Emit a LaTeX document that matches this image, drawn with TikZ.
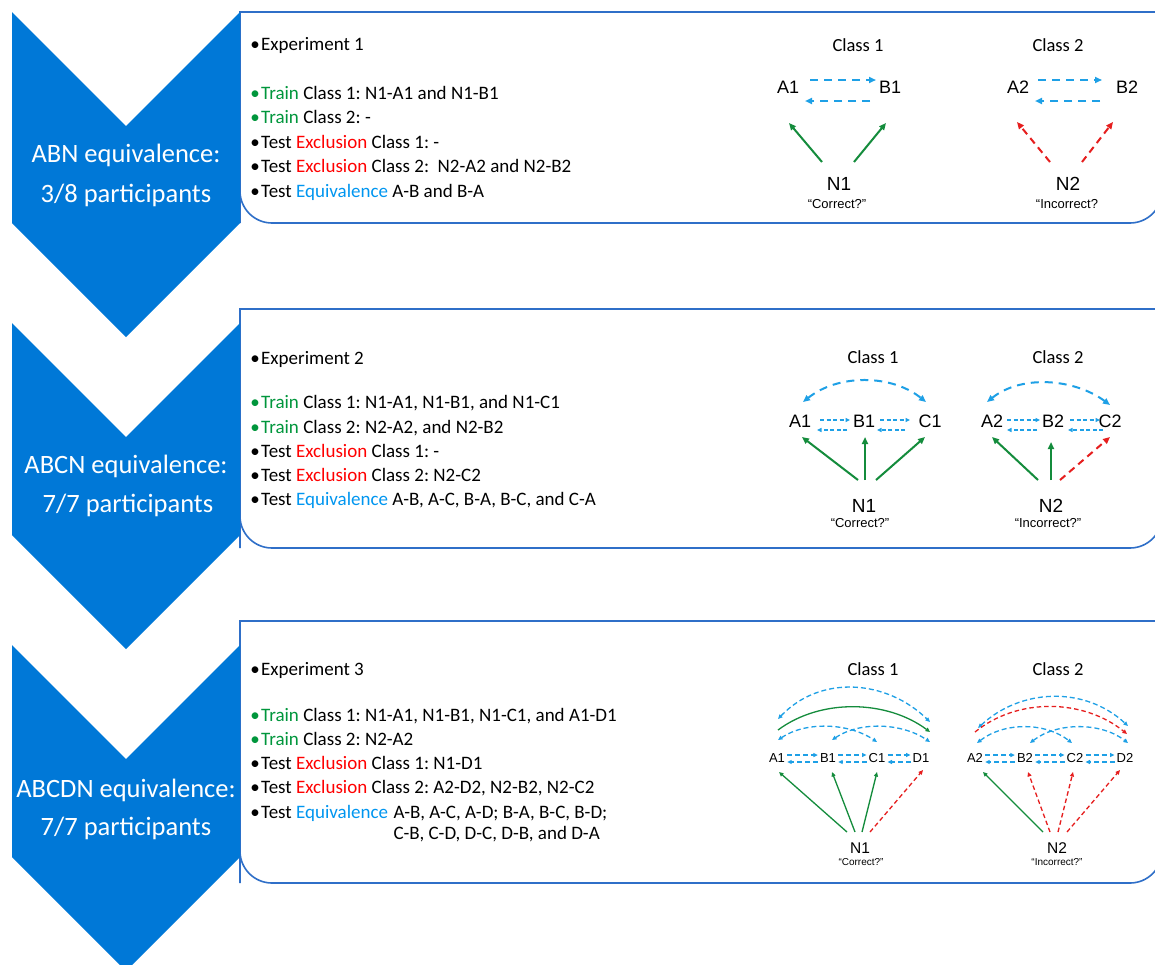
\documentclass[tikz,border=0pt]{standalone}
\usepackage{fontspec}
\setmainfont{Carlito}
\newfontfamily\arialf{Liberation Sans}
\usetikzlibrary{arrows.meta}
\definecolor{chev}{RGB}{0,120,215}
\definecolor{boxl}{RGB}{47,111,200}
\definecolor{trn}{RGB}{0,150,60}
\definecolor{exc}{RGB}{255,0,0}
\definecolor{eqv}{RGB}{0,150,240}
\definecolor{dblue}{RGB}{30,160,230}
\definecolor{dgreen}{RGB}{20,140,60}
\definecolor{dred}{RGB}{230,30,30}
\frenchspacing
\begin{document}
\begin{tikzpicture}[x=1pt,y=-1pt,
 chevtext/.style={text=white,font=\fontsize{26.5}{30}\selectfont,anchor=base,inner sep=0pt},
 txt/.style={font=\fontsize{19}{22}\selectfont,anchor=base west,inner sep=0pt},
 bul/.style={font=\fontsize{19}{22}\selectfont,anchor=base,inner sep=0pt},
 cls/.style={font=\fontsize{18.5}{22}\selectfont,anchor=base,inner sep=0pt},
 lbl/.style={font=\arialf\fontsize{18}{20}\selectfont,anchor=base,inner sep=0pt},
 nlbl/.style={font=\arialf\fontsize{19}{21}\selectfont,anchor=base,inner sep=0pt},
 qlbl/.style={font=\arialf\fontsize{13}{15}\selectfont,anchor=base,inner sep=0pt},
 lblS/.style={font=\arialf\fontsize{13}{15}\selectfont,anchor=base,inner sep=0pt},
 nlblS/.style={font=\arialf\fontsize{15.5}{17}\selectfont,anchor=base,inner sep=0pt},
 qlblS/.style={font=\arialf\fontsize{10}{12}\selectfont,anchor=base,inner sep=0pt},
 panel/.style={draw=boxl,line width=1.6pt,fill=white},
 bigtip/.style={-{Triangle[length=7pt,width=6pt]}},
 bigtips/.style={{Triangle[length=7pt,width=6pt]}-{Triangle[length=7pt,width=6pt]}},
 smtip/.style={-{Triangle[length=4.5pt,width=4pt]}},
 smtips/.style={{Triangle[length=4.5pt,width=4pt]}-{Triangle[length=4.5pt,width=4pt]}},
 bd/.style={draw=dblue,line width=2pt,dash pattern=on 8pt off 6pt},
 bds/.style={draw=dblue,line width=1.3pt,dash pattern=on 4pt off 2.5pt},
 bd3/.style={draw=dblue,line width=1.3pt,dash pattern=on 5pt off 3pt},
 gs/.style={draw=dgreen,line width=2pt},
 gss3/.style={draw=dgreen,line width=1.3pt},
 rd/.style={draw=dred,line width=2pt,dash pattern=on 7pt off 5pt},
 rds3/.style={draw=dred,line width=1.3pt,dash pattern=on 4.5pt off 3pt}
]
\useasboundingbox (0,0) rectangle (1155,964);
\fill[white] (0,0) rectangle (1155,964);

% panels
\draw[panel] (240,223) -- (240,12) -- (1162,12) [rounded corners=32pt] -- (1162,223) -- (240,223) [sharp corners] -- cycle;
\draw[panel] (240,548) -- (240,309) -- (1162,309) [rounded corners=32pt] -- (1162,548) -- (240,548) [sharp corners] -- cycle;
\draw[panel] (240,883) -- (240,621) -- (1162,621) [rounded corners=32pt] -- (1162,883) -- (240,883) [sharp corners] -- cycle;

% chevrons
\fill[chev] (12,12) -- (126,126) -- (240,12) -- (240,223) -- (126,337) -- (12,223) -- cycle;
\fill[chev] (12,323) -- (126,437) -- (240,323) -- (240,535) -- (126,649) -- (12,535) -- cycle;
\fill[chev] (12,645) -- (126,759) -- (240,645) -- (240,857) -- (126,971) -- (12,857) -- cycle;

\node[chevtext] (c1a) at (126,162) {ABN equivalence:};
\node[chevtext] (c1b) at (126,202) {3/8 participants};
\node[chevtext] (c2a) at (126,473) {ABCN equivalence:};
\node[chevtext] (c2b) at (128,512) {7/7 participants};
\node[chevtext] (c3a) at (126,797) {ABCDN equivalence:};
\node[chevtext] (c3b) at (126,835) {7/7 participants};

% panel 1 text
\node[bul] (b1a) at (255,50) {•};
\node[txt] (e1a) at (261,50) {Experiment 1};
\node[bul,text=trn] (b1b) at (255,99) {•};
\node[txt] (e1b) at (261,99) {\textcolor{trn}{Train} Class 1: N1-A1 and N1-B1};
\node[bul,text=trn] (b1c) at (255,123) {•};
\node[txt] (e1c) at (261,123) {\textcolor{trn}{Train} Class 2: -};
\node[bul] (b1d) at (255,148) {•};
\node[txt] (e1d) at (261,148) {Test \textcolor{exc}{Exclusion} Class 1: -};
\node[bul] (b1e) at (255,172) {•};
\node[txt] (e1e) at (261,172) {Test \textcolor{exc}{Exclusion} Class 2:\ \ N2-A2 and N2-B2};
\node[bul] (b1f) at (255,197) {•};
\node[txt] (e1f) at (261,197) {Test \textcolor{eqv}{Equivalence} A-B and B-A};

% panel 2 text
\node[bul] (b2a) at (255,364) {•};
\node[txt] (e2a) at (261,364) {Experiment 2};
\node[bul,text=trn] (b2b) at (255,408) {•};
\node[txt] (e2b) at (261,408) {\textcolor{trn}{Train} Class 1: N1-A1, N1-B1, and N1-C1};
\node[bul,text=trn] (b2c) at (255,433) {•};
\node[txt] (e2c) at (261,433) {\textcolor{trn}{Train} Class 2: N2-A2, and N2-B2};
\node[bul] (b2d) at (255,457) {•};
\node[txt] (e2d) at (261,457) {Test \textcolor{exc}{Exclusion} Class 1: -};
\node[bul] (b2e) at (255,481) {•};
\node[txt] (e2e) at (261,481) {Test \textcolor{exc}{Exclusion} Class 2: N2-C2};
\node[bul] (b2f) at (255,505) {•};
\node[txt] (e2f) at (261,505) {Test \textcolor{eqv}{Equivalence} A-B, A-C, B-A, B-C, and C-A};

% panel 3 text
\node[bul] (b3a) at (255,675) {•};
\node[txt] (e3a) at (261,675) {Experiment 3};
\node[bul,text=trn] (b3b) at (255,721) {•};
\node[txt] (e3b) at (261,721) {\textcolor{trn}{Train} Class 1: N1-A1, N1-B1, N1-C1, and A1-D1};
\node[bul,text=trn] (b3c) at (255,745) {•};
\node[txt] (e3c) at (261,745) {\textcolor{trn}{Train} Class 2: N2-A2};
\node[bul] (b3d) at (255,769) {•};
\node[txt] (e3d) at (261,769) {Test \textcolor{exc}{Exclusion} Class 1: N1-D1};
\node[bul] (b3e) at (255,793) {•};
\node[txt] (e3e) at (261,793) {Test \textcolor{exc}{Exclusion} Class 2: A2-D2, N2-B2, N2-C2};
\node[bul] (b3f) at (255,818) {•};
\node[txt] (e3f) at (261,818) {Test \textcolor{eqv}{Equivalence}};
\node[txt] (e3g) at ([xshift=5pt]e3f.base east) {A-B, A-C, A-D; B-A, B-C, B-D;};
\node[txt] (e3h) at ([yshift=-21pt]e3g.base west) {C-B, C-D, D-C, D-B, and D-A};

% ---------- panel 1 diagram ----------
\node[cls] (p1c1) at (858,51) {Class 1};
\node[cls] (p1c2) at (1058,51) {Class 2};
\node[lbl] (p1A1) at (788,93) {A1};
\node[lbl] (p1B1) at (890,93) {B1};
\node[nlbl] (p1N1) at (839,190) {N1};
\node[qlbl] (p1q1) at (837,208) {“Correct?”};
\node[lbl] (p1A2) at (1018,93) {A2};
\node[lbl] (p1B2) at (1127,93) {B2};
\node[nlbl] (p1N2) at (1068,190) {N2};
\node[qlbl] (p1q2) at (1067,208) {“Incorrect?};

\draw[bd,bigtip] ([shift={(22,-13)}]p1A1.base) -- ([shift={(-14,-13)}]p1B1.base);
\draw[bd,bigtip] ([shift={(-20,8)}]p1B1.base) -- ([shift={(17,8)}]p1A1.base);
\draw[gs,bigtip] ([shift={(-17,-28)}]p1N1.base) -- ([shift={(1,30)}]p1A1.base);
\draw[gs,bigtip] ([shift={(15,-28)}]p1N1.base) -- ([shift={(-4,30)}]p1B1.base);
\draw[bd,bigtip] ([shift={(20,-13)}]p1A2.base) -- ([shift={(-25,-13)}]p1B2.base);
\draw[bd,bigtip] ([shift={(-27,8)}]p1B2.base) -- ([shift={(17,8)}]p1A2.base);
\draw[rd,bigtip] ([shift={(-18,-28)}]p1N2.base) -- ([shift={(-1,29)}]p1A2.base);
\draw[rd,bigtip] ([shift={(14,-28)}]p1N2.base) -- ([shift={(-14,29)}]p1B2.base);

% ---------- panel 2 diagram ----------
\node[cls] (p2c1) at (873,363) {Class 1};
\node[cls] (p2c2) at (1058,363) {Class 2};
\node[lbl] (p2A1) at (800,427) {A1};
\node[lbl] (p2B1) at (864,427) {B1};
\node[lbl] (p2C1) at (930,427) {C1};
\node[nlbl] (p2N1) at (864,512) {N1};
\node[qlbl] (p2q1) at (860,527) {“Correct?”};
\node[lbl] (p2A2) at (992,427) {A2};
\node[lbl] (p2B2) at (1053,427) {B2};
\node[lbl] (p2C2) at (1110,427) {C2};
\node[nlbl] (p2N2) at (1051,512) {N2};
\node[qlbl] (p2q2) at (1048,527) {“Incorrect?”};

\draw[bds,smtip] ([shift={(20,-7)}]p2A1.base) -- ([shift={(-14,-7)}]p2B1.base);
\draw[bds,smtip] ([shift={(-17,3)}]p2B1.base) -- ([shift={(17,3)}]p2A1.base);
\draw[bds,smtip] ([shift={(16,-7)}]p2B1.base) -- ([shift={(-20,-7)}]p2C1.base);
\draw[bds,smtip] ([shift={(-25,3)}]p2C1.base) -- ([shift={(13,3)}]p2B1.base);
\draw[bd,bigtips] ([shift={(3,-25)}]p2A1.base) .. controls +(35,-28) and +(-35,-28) .. ([shift={(-4,-25)}]p2C1.base);
\draw[gs,bigtip] ([shift={(-6,-32)}]p2N1.base) -- ([shift={(2,10)}]p2A1.base);
\draw[gs,bigtip] ([shift={(1,-32)}]p2N1.base) -- ([shift={(1,10)}]p2B1.base);
\draw[gs,bigtip] ([shift={(12,-32)}]p2N1.base) -- ([shift={(-5,10)}]p2C1.base);

\draw[bds,smtip] ([shift={(15,-7)}]p2A2.base) -- ([shift={(-13,-7)}]p2B2.base);
\draw[bds,smtip] ([shift={(-16,3)}]p2B2.base) -- ([shift={(15,3)}]p2A2.base);
\draw[bds,smtip] ([shift={(17,-7)}]p2B2.base) -- ([shift={(-10,-7)}]p2C2.base);
\draw[bds,smtip] ([shift={(-7,3)}]p2C2.base) -- ([shift={(15,3)}]p2B2.base);
\draw[bd,bigtips] ([shift={(-5,-25)}]p2A2.base) .. controls +(35,-28) and +(-35,-26) .. ([shift={(0,-22)}]p2C2.base);
\draw[gs,bigtip] ([shift={(-13,-32)}]p2N2.base) -- ([shift={(0,10)}]p2A2.base);
\draw[gs,bigtip] ([shift={(0,-32)}]p2N2.base) -- ([shift={(-2,15)}]p2B2.base);
\draw[rd,bigtip] ([shift={(9,-32)}]p2N2.base) -- ([shift={(0,10)}]p2C2.base);

% ---------- panel 3 diagram ----------
\node[cls] (p3c1) at (873,675) {Class 1};
\node[cls] (p3c2) at (1058,675) {Class 2};
\node[lblS] (p3A1) at (777,762) {A1};
\node[lblS] (p3B1) at (828,762) {B1};
\node[lblS] (p3C1) at (877,762) {C1};
\node[lblS] (p3D1) at (921,762) {D1};
\node[nlblS] (p3N1) at (860,853) {N1};
\node[qlblS] (p3q1) at (861,865) {“Correct?”};
\node[lblS] (p3A2) at (975,762) {A2};
\node[lblS] (p3B2) at (1025,762) {B2};
\node[lblS] (p3C2) at (1075,762) {C2};
\node[lblS] (p3D2) at (1125,762) {D2};
\node[nlblS] (p3N2) at (1057,853) {N2};
\node[qlblS] (p3q2) at (1057,865) {“Incorrect?”};

% pairs class 1
\draw[bd3,smtip] ([shift={(2,-7)}]p3A1.base east) -- ([shift={(-2,-7)}]p3B1.base west);
\draw[bd3,smtip] ([shift={(-2,0)}]p3B1.base west) -- ([shift={(2,0)}]p3A1.base east);
\draw[bd3,smtip] ([shift={(2,-7)}]p3B1.base east) -- ([shift={(-2,-7)}]p3C1.base west);
\draw[bd3,smtip] ([shift={(-2,0)}]p3C1.base west) -- ([shift={(2,0)}]p3B1.base east);
\draw[bd3,smtip] ([shift={(2,-7)}]p3C1.base east) -- ([shift={(-2,-7)}]p3D1.base west);
\draw[bd3,smtip] ([shift={(-2,0)}]p3D1.base west) -- ([shift={(2,0)}]p3C1.base east);
% arcs class 1
\draw[bd3,smtips] ([shift={(1,-43)}]p3A1.base) .. controls +(43,-45) and +(-43,-42) .. ([shift={(9,-40)}]p3D1.base);
\draw[gss3,smtip] ([shift={(1,-32)}]p3A1.base) .. controls +(43,-32) and +(-43,-32) .. ([shift={(9,-30)}]p3D1.base);
\draw[bd3,smtips] ([shift={(1,-22)}]p3A1.base) .. controls +(28,-19) and +(-28,-19) .. ([shift={(0,-20)}]p3C1.base);
\draw[bd3,smtips] ([shift={(4,-22)}]p3B1.base) .. controls +(28,-19) and +(-28,-19) .. ([shift={(9,-20)}]p3D1.base);
% N1 arrows
\draw[gss3,smtip] ([shift={(-13,-21)}]p3N1.base) -- ([shift={(2,10)}]p3A1.base);
\draw[gss3,smtip] ([shift={(-5,-21)}]p3N1.base) -- ([shift={(4,10)}]p3B1.base);
\draw[gss3,smtip] ([shift={(2,-21)}]p3N1.base) -- ([shift={(0,10)}]p3C1.base);
\draw[rds3,smtip] ([shift={(10,-21)}]p3N1.base) -- ([shift={(2,8)}]p3D1.base);

% pairs class 2
\draw[bd3,smtip] ([shift={(2,-7)}]p3A2.base east) -- ([shift={(-2,-7)}]p3B2.base west);
\draw[bd3,smtip] ([shift={(-2,0)}]p3B2.base west) -- ([shift={(2,0)}]p3A2.base east);
\draw[bd3,smtip] ([shift={(2,-7)}]p3B2.base east) -- ([shift={(-2,-7)}]p3C2.base west);
\draw[bd3,smtip] ([shift={(-2,0)}]p3C2.base west) -- ([shift={(2,0)}]p3B2.base east);
\draw[bd3,smtip] ([shift={(2,-7)}]p3C2.base east) -- ([shift={(-2,-7)}]p3D2.base west);
\draw[bd3,smtip] ([shift={(-2,0)}]p3D2.base west) -- ([shift={(2,0)}]p3C2.base east);
% arcs class 2
\draw[bd3,smtips] ([shift={(3,-34)}]p3A2.base) .. controls +(43,-40) and +(-43,-40) .. ([shift={(3,-36)}]p3D2.base);
\draw[rds3,smtip] ([shift={(0,-30)}]p3A2.base) .. controls +(43,-35) and +(-43,-35) .. ([shift={(2,-28)}]p3D2.base);
\draw[bd3,smtips] ([shift={(2,-19)}]p3A2.base) .. controls +(27,-21) and +(-27,-21) .. ([shift={(-3,-19)}]p3C2.base);
\draw[bd3,smtips] ([shift={(5,-19)}]p3B2.base) .. controls +(27,-21) and +(-27,-21) .. ([shift={(3,-19)}]p3D2.base);
% N2 arrows
\draw[gss3,smtip] ([shift={(-14,-21)}]p3N2.base) -- ([shift={(8,10)}]p3A2.base);
\draw[rds3,smtip] ([shift={(-7,-21)}]p3N2.base) -- ([shift={(3,10)}]p3B2.base);
\draw[rds3,smtip] ([shift={(1,-21)}]p3N2.base) -- ([shift={(-2,10)}]p3C2.base);
\draw[rds3,smtip] ([shift={(10,-21)}]p3N2.base) -- ([shift={(-5,8)}]p3D2.base);
\end{tikzpicture}
\end{document}
